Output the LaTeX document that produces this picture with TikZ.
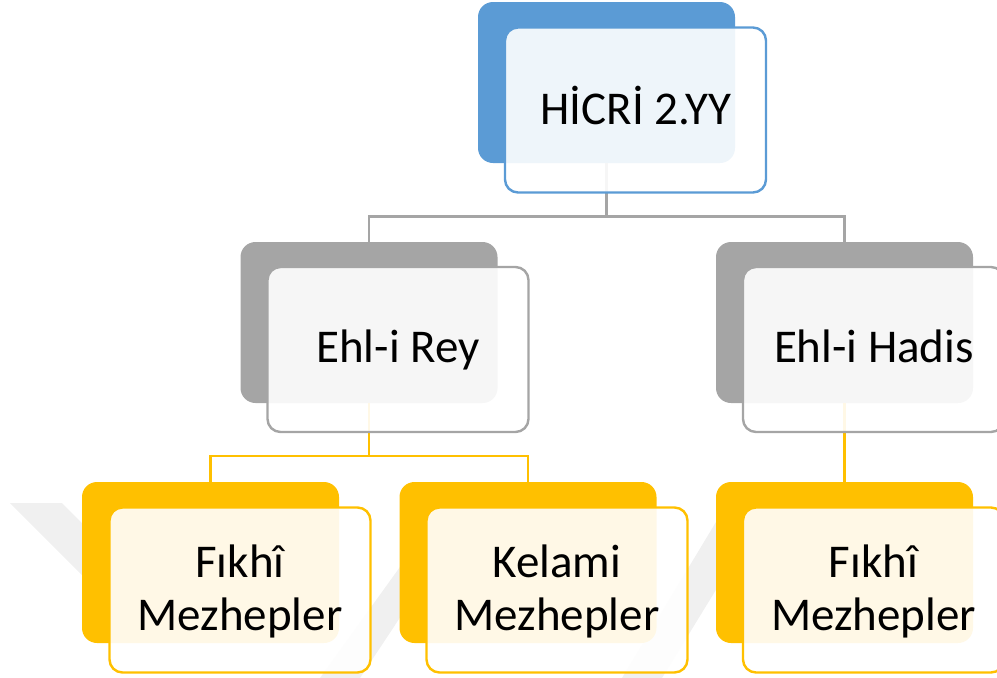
\documentclass[tikz,border=0pt]{standalone}
\usepackage{fontspec}
\setmainfont{Carlito}
\definecolor{cblue}{HTML}{5B9BD5}
\definecolor{cgray}{HTML}{A5A5A5}
\definecolor{cyel}{HTML}{FFC000}
\definecolor{wm}{HTML}{F0F0F0}
\begin{document}
\begin{tikzpicture}[x=1pt,y=-1pt,
  backbox/.style={rectangle,rounded corners=15pt,minimum width=257pt,minimum height=161pt,inner sep=0pt,outer sep=0pt,fill=#1,draw=none},
  frontbox/.style={rectangle,rounded corners=13pt,minimum width=261pt,minimum height=165pt,inner sep=0pt,outer sep=0pt,fill=white,fill opacity=0.9,draw=#1,draw opacity=1,line width=2.4pt},
  lbl/.style={font=\fontsize{47}{53}\selectfont,anchor=base,inner sep=0pt,text=black},
  gline/.style={draw=cgray,line width=2.6pt},
  yline/.style={draw=cyel,line width=2.6pt}]
\useasboundingbox (0,0) rectangle (997,678);
% faint watermark
\fill[wm] (10,503) -- (62,503) -- (200,641) -- (148,641) -- cycle;
\fill[wm] (405,560) -- (405,610) -- (360,678) -- (320,678) -- cycle;
\fill[wm] (722,512) -- (722,580) -- (662,678) -- (622,678) -- cycle;
% back boxes
\node[backbox=cblue] (topB) at (606.5,82.5) {};
\node[backbox=cgray] (reyB) at (369,322.5) {};
\node[backbox=cgray] (hadB) at (844.5,322.5) {};
\node[backbox=cyel] (f1B) at (210.5,562.5) {};
\node[backbox=cyel] (kelB) at (528,562.5) {};
\node[backbox=cyel] (f2B) at (844.5,562.5) {};
% connectors
\draw[gline] (topB.south) -- (topB.south |- 0,216.5) -| (reyB.north);
\draw[gline] (topB.south) -- (topB.south |- 0,216.5) -| (hadB.north);
\draw[yline] (reyB.south) -- (reyB.south |- 0,456) -| (f1B.north);
\draw[yline] (reyB.south) -- (reyB.south |- 0,456) -| (kelB.north);
\draw[yline] (hadB.south) -- (f2B.north);
% front boxes
\node[frontbox=cblue] (topF) at (635.5,110) {};
\node[frontbox=cgray] (reyF) at (398,349.5) {};
\node[frontbox=cgray] (hadF) at (873.5,349.5) {};
\node[frontbox=cyel] (f1F) at (240,590) {};
\node[frontbox=cyel] (kelF) at (557,590) {};
\node[frontbox=cyel] (f2F) at (873.5,590) {};
% labels
\node[lbl] (topT) at (636,124) {HİCRİ 2.YY};
\node[lbl] (reyT) at (398,362) {Ehl-i Rey};
\node[lbl] (hadT) at (874,362) {Ehl-i Hadis};
\node[lbl] (f1T1) at (240,577) {Fıkhî};
\node[lbl] (f1T2) at (240,630) {Mezhepler};
\node[lbl] (kelT1) at (557,577) {Kelami};
\node[lbl] (kelT2) at (557,630) {Mezhepler};
\node[lbl] (f2T1) at (873.5,577) {Fıkhî};
\node[lbl] (f2T2) at (873.5,630) {Mezhepler};
\end{tikzpicture}
\end{document}
